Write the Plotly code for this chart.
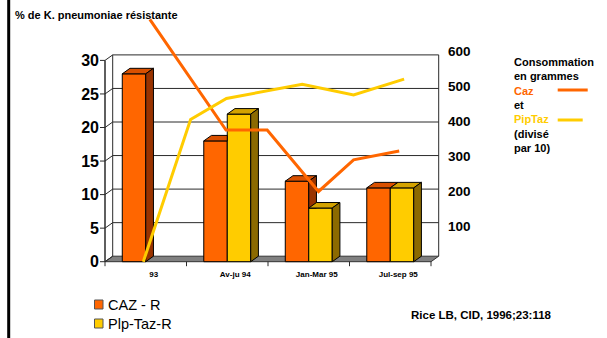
import plotly.graph_objects as go

# ---- data -------------------------------------------------------------
categories = ["93", "Av-ju 94", "Jan-Mar 95", "Jul-sep 95"]
caz_r = [28, 18, 12, 11]            # % K. pneumoniae resistant to ceftazidime
piptaz_r = [None, 22, 8, 11]        # % resistant to piperacillin-tazobactam

# consumption (grams; PipTaz divided by 10), x given in period units
caz_conso_x = [0.05, 0.985, 1.49, 2.12, 2.55, 3.11]
caz_conso = [690, 375, 375, 200, 290, 315]
piptaz_conso_x = [-0.03, 0.55, 0.99, 1.92, 2.55, 3.17]
piptaz_conso = [0, 405, 465, 505, 475, 520]

left_ticks = [0, 5, 10, 15, 20, 25, 30]
right_ticks = [100, 200, 300, 400, 500, 600]

series_names = ["CAZ - R", "Plp-Taz-R"]

# ---- styling / geometry ----------------------------------------------
FONT = "Liberation Sans, Arial, sans-serif"
ORANGE, ORANGE_TOP, ORANGE_SIDE = "#FF6600", "#D95000", "#993300"
YELLOW, YELLOW_TOP, YELLOW_SIDE = "#FFCC00", "#D4A300", "#8C6A00"

W, H = 607, 338
PL, PR, PT, PB = 100, 441, 10, 268          # plot area in pixels
X0_PX, UNIT_X = 105.0, 81.5                  # pixel of x=-0.5, px per period
Y0_PX, UNIT_Y = 261.7, 6.71                  # pixel of y=0, px per %
UNIT_Y2 = 0.35117                            # px per gram unit (right axis)

DX = 7.7 / UNIT_X                            # depth offset of the 3-D box
DY = 5.5 / UNIT_Y
BARGAP = 0.424
BW = (1 - BARGAP) / 2                        # width of one bar
N = len(categories)
XL, XR = -0.5, N - 0.5

x_range = [XL - (X0_PX - PL) / UNIT_X, XL + (PR - X0_PX) / UNIT_X]
y_range = [-(PB - Y0_PX) / UNIT_Y, (Y0_PX - PT) / UNIT_Y]
y2_range = [-(PB - Y0_PX) / UNIT_Y2, (Y0_PX - PT) / UNIT_Y2]


def px(xp):
    return (xp - PL) / (PR - PL)


def py(yp):
    return (PB - yp) / (PB - PT)


fig = go.Figure()

# front faces of the bars
fig.add_trace(go.Bar(x=list(range(N)), y=caz_r, name=series_names[0],
                     marker=dict(color=ORANGE, line=dict(color="black", width=1)),
                     hoverinfo="skip", showlegend=False))
fig.add_trace(go.Bar(x=list(range(N)), y=piptaz_r, name=series_names[1],
                     marker=dict(color=YELLOW, line=dict(color="black", width=1)),
                     hoverinfo="skip", showlegend=False))


def face(xs, ys, color):
    fig.add_trace(go.Scatter(x=xs + [xs[0]], y=ys + [ys[0]], mode="lines",
                             fill="toself", fillcolor=color,
                             line=dict(color="black", width=1),
                             hoverinfo="skip", showlegend=False))


# top and side faces, painted back to front
for i in range(N):
    v = caz_r[i]
    w = piptaz_r[i]
    x0, x1 = i - BW, i
    if w is not None and w >= v + DY:
        face([x0, x1, x1, x0 + DX], [v, v, v + DY, v + DY], ORANGE_TOP)
    else:
        face([x0, x1, x1 + DX, x0 + DX], [v, v, v + DY, v + DY], ORANGE_TOP)
    c = 0 if w is None else min(w, v)
    if c < v:
        face([x1, x1, x1 + DX, x1 + DX], [c, v, v + DY, max(c, DY)], ORANGE_SIDE)
    if w is not None:
        x0, x1 = i, i + BW
        face([x0, x1, x1 + DX, x0 + DX], [w, w, w + DY, w + DY], YELLOW_TOP)
        face([x1, x1, x1 + DX, x1 + DX], [0, w, w + DY, DY], YELLOW_SIDE)

# consumption lines on the right axis
fig.add_trace(go.Scatter(x=caz_conso_x, y=caz_conso, yaxis="y2", mode="lines",
                         line=dict(color=ORANGE, width=3), hoverinfo="skip",
                         showlegend=False))
fig.add_trace(go.Scatter(x=piptaz_conso_x, y=piptaz_conso, yaxis="y2", mode="lines",
                         line=dict(color=YELLOW, width=3), hoverinfo="skip",
                         showlegend=False))

shapes = []
# floor
shapes.append(dict(type="path", xref="x", yref="y", layer="below",
                   path=f"M{XL},0 L{XR},0 L{XR + DX},{DY} L{XL + DX},{DY} Z",
                   fillcolor="#808080", line=dict(color="#333333", width=1)))
# back wall grid and borders, side wall edges, front axis
for v in left_ticks:
    if v > 0:
        shapes.append(dict(type="line", xref="x", yref="y", layer="below",
                           x0=XL + DX, x1=XR + DX, y0=v + DY, y1=v + DY,
                           line=dict(color="#2a2a2a", width=1)))
    shapes.append(dict(type="line", xref="x", yref="y", layer="below",
                       x0=XL, x1=XL + DX, y0=v, y1=v + DY,
                       line=dict(color="#2a2a2a", width=1)))
    shapes.append(dict(type="line", xref="x", yref="y", layer="below",
                       x0=XL - 5 / UNIT_X, x1=XL, y0=v, y1=v,
                       line=dict(color="#2a2a2a", width=1)))
top = left_ticks[-1]
for xb in (XL + DX, XR + DX):
    shapes.append(dict(type="line", xref="x", yref="y", layer="below",
                       x0=xb, x1=xb, y0=DY, y1=top + DY,
                       line=dict(color="#2a2a2a", width=1)))
shapes.append(dict(type="line", xref="x", yref="y", layer="below",
                   x0=XL, x1=XL, y0=0, y1=top, line=dict(color="#2a2a2a", width=1.5)))
# period boundary ticks under the floor
for k in range(N + 1):
    xb = XL + k
    shapes.append(dict(type="line", xref="x", yref="y", layer="below",
                       x0=xb, x1=xb, y0=0, y1=-4.5 / UNIT_Y,
                       line=dict(color="#2a2a2a", width=1)))
# slide border on the left
shapes.append(dict(type="line", xref="paper", yref="paper",
                   x0=px(8.7), x1=px(8.7), y0=py(0), y1=py(H),
                   line=dict(color="black", width=3)))
# key lines for the consumption curves
shapes.append(dict(type="line", xref="paper", yref="paper",
                   x0=px(557.7), x1=px(587.7), y0=py(90), y1=py(90),
                   line=dict(color=ORANGE, width=3)))
shapes.append(dict(type="line", xref="paper", yref="paper",
                   x0=px(557.7), x1=px(582.7), y0=py(120), y1=py(120),
                   line=dict(color=YELLOW, width=3)))
# bottom key squares
for j, col in enumerate([ORANGE, YELLOW]):
    yc = 304.5 + 19 * j
    shapes.append(dict(type="rect", xref="paper", yref="paper",
                       x0=px(94.5), x1=px(103), y0=py(yc - 4.5), y1=py(yc + 4.5),
                       fillcolor=col, line=dict(color="#555555", width=1)))

annotations = [
    dict(text="<b>% de K. pneumoniae résistante</b>", x=px(13), y=py(15),
         xanchor="left", yanchor="middle", font=dict(size=11)),
    dict(text="<b>Consommation<br>en grammes<br><span style='color:#FF6600'>Caz</span>"
              "<br>et<br><span style='color:#FFCC00'>PipTaz</span><br>(divisé<br>par 10)</b>",
         x=px(511.5), y=py(54), xanchor="left", yanchor="top", align="left",
         font=dict(size=11)),
    dict(text="<b>Rice LB, CID, 1996;23:118</b>", x=px(408.5), y=py(315),
         xanchor="left", yanchor="middle", font=dict(size=11.5)),
]
for j, name in enumerate(series_names):
    annotations.append(dict(text=name, x=px(106), y=py(304.5 + 19 * j),
                            xanchor="left", yanchor="middle",
                            font=dict(size=14.5)))
for a in annotations:
    a.update(xref="paper", yref="paper", showarrow=False)
    a["font"].update(family=FONT, color="black")

fig.update_layout(
    width=W, height=H,
    margin=dict(l=PL, r=W - PR, t=PT, b=H - PB, pad=0),
    paper_bgcolor="white", plot_bgcolor="white",
    barmode="group", bargap=BARGAP, bargroupgap=0,
    showlegend=False,
    font=dict(family=FONT, color="black"),
    xaxis=dict(range=x_range, tickvals=list(range(N)), ticktext=categories,
               showgrid=False, zeroline=False, showline=False, ticks="",
               ticklabelshift=8, ticklabelstandoff=0,
               tickfont=dict(size=8, weight="bold")),
    yaxis=dict(range=y_range, tickvals=left_ticks, showgrid=False, zeroline=False,
               showline=False, ticks="", ticklabelstandoff=0,
               tickfont=dict(size=16, weight="bold")),
    yaxis2=dict(range=y2_range, overlaying="y", side="right", tickvals=right_ticks,
                showgrid=False, zeroline=False, showline=False, ticks="",
                ticklabelstandoff=6, tickfont=dict(size=13.5, weight="bold")),
    shapes=shapes,
    annotations=annotations,
)

fig.write_html("out.html")
